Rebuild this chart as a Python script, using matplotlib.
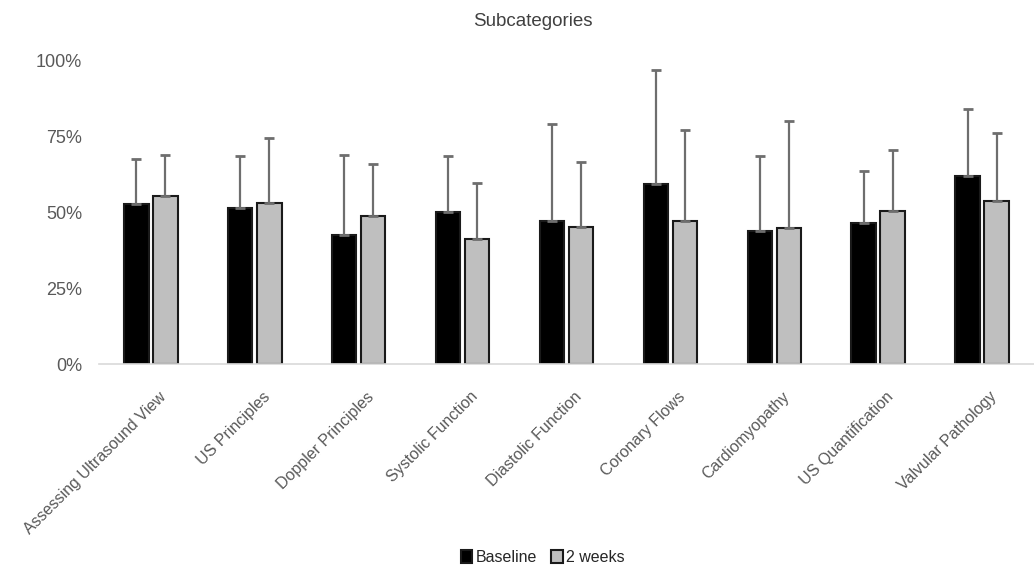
import matplotlib
matplotlib.use('Agg')
import matplotlib.pyplot as plt
import numpy as np

categories = ['Assessing Ultrasound View', 'US Principles', 'Doppler Principles',
              'Systolic Function', 'Diastolic Function', 'Coronary Flows',
              'Cardiomyopathy', 'US Quantification', 'Valvular Pathology']
baseline = [52.7, 51.4, 42.6, 50.0, 47.1, 59.2, 43.6, 46.4, 62.0]
baseline_top = [67.3, 68.3, 68.9, 68.4, 78.9, 96.8, 68.4, 63.4, 83.8]
weeks2 = [55.4, 52.9, 48.7, 41.0, 45.1, 46.9, 44.8, 50.3, 53.6]
weeks2_top = [68.9, 74.4, 65.9, 59.6, 66.5, 77.0, 80.0, 70.5, 76.0]
yticks = [0, 25, 50, 75, 100]

plt.rcParams['font.family'] = ['Liberation Sans', 'DejaVu Sans']

fig = plt.figure(figsize=(10.34, 5.70), dpi=100)
ax = fig.add_axes([0.0957, 0.3614, 0.9043, 0.5333])

x = np.arange(len(categories))
w = 0.235
off = 0.14
b_err = np.array(baseline_top) - np.array(baseline)
w_err = np.array(weeks2_top) - np.array(weeks2)
err_kw = dict(ecolor='#6e6e6e', elinewidth=1.6, capsize=3.5, capthick=2)

ax.bar(x - off, baseline, w, color='black', edgecolor='#1a1a1a', linewidth=1.5,
       yerr=[np.zeros(len(x)), b_err], error_kw=err_kw, label='Baseline', zorder=2)
ax.bar(x + off, weeks2, w, color='#bfbfbf', edgecolor='#1a1a1a', linewidth=1.5,
       yerr=[np.zeros(len(x)), w_err], error_kw=err_kw, label='2 weeks', zorder=2)

ax.set_xlim(-0.5, len(categories) - 0.5)
ax.set_ylim(0, 100)
ax.set_yticks(yticks)
ax.set_yticklabels([f'{t}%' for t in yticks], color='#595959', fontsize=13)
ax.set_xticks(x + 0.07)
ax.set_xticklabels(categories, rotation=45, ha='right', rotation_mode='anchor',
                   color='#595959', fontsize=11.5)
ax.tick_params(axis='both', length=0)
ax.tick_params(axis='y', pad=12)
ax.tick_params(axis='x', pad=18)

for s in ['top', 'right', 'left']:
    ax.spines[s].set_visible(False)
ax.spines['bottom'].set_color('#d9d9d9')
ax.spines['bottom'].set_linewidth(1.2)

fig.text(0.515, 0.962, 'Subcategories', ha='center', va='center',
         color='#404040', fontsize=13.5)

fig.legend(loc='center', bbox_to_anchor=(0.525, 0.022), ncol=2, frameon=False,
           fontsize=11.5, handlelength=0.7, handleheight=0.9, handletextpad=0.2,
           columnspacing=0.9, labelcolor='#262626')

fig.savefig('out.png', dpi=100)
